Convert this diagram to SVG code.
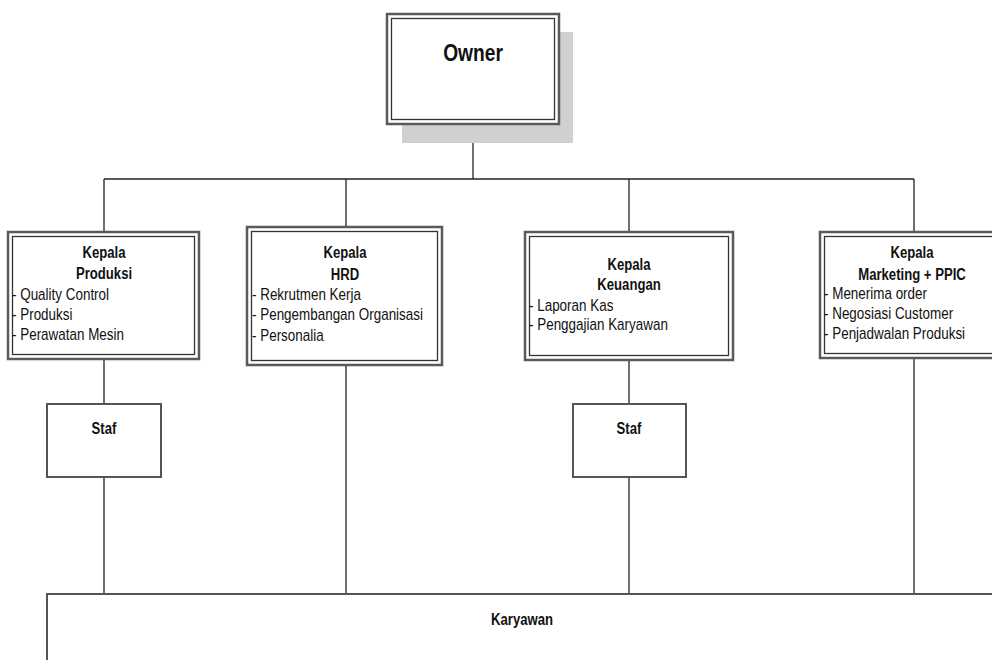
<svg xmlns="http://www.w3.org/2000/svg" width="992" height="660" viewBox="0 0 992 660">
<style>
  text { font-family: "Liberation Sans", Arial, sans-serif; fill: #111; }
  .b { font-weight: bold; font-size: 16px; text-anchor: middle; }
  .t { font-size: 16px; }
  .title { font-weight: bold; font-size: 24px; text-anchor: middle; }
  .outer { fill: #fff; stroke: #5a5a5a; stroke-width: 2.5; }
  .inner { fill: none; stroke: #333; stroke-width: 1.3; }
  .single { fill: #fff; stroke: #555; stroke-width: 2; }
  .shadow { fill: #d0d0d0; }
  .conn line { stroke: #222; stroke-width: 1.3; }
</style>
<rect width="992" height="660" fill="#fff"/>
<g class="conn" id="connectors">
  <line x1="473" y1="124" x2="473" y2="179"/>
  <line x1="104" y1="179" x2="914" y2="179"/>
  <line x1="104" y1="179" x2="104" y2="232"/>
  <line x1="346" y1="179" x2="346" y2="227"/>
  <line x1="629" y1="179" x2="629" y2="232"/>
  <line x1="914" y1="179" x2="914" y2="232"/>
  <line x1="104" y1="359" x2="104" y2="404"/>
  <line x1="104" y1="477" x2="104" y2="594"/>
  <line x1="346" y1="365" x2="346" y2="594"/>
  <line x1="629" y1="360" x2="629" y2="404"/>
  <line x1="629" y1="477" x2="629" y2="594"/>
  <line x1="914" y1="358" x2="914" y2="594"/>
</g>
<g id="owner">
  <rect class="shadow" x="402" y="32" width="171" height="111"/>
  <rect class="outer" x="387" y="14" width="172" height="110"/>
  <rect class="inner" x="391.5" y="18.5" width="163" height="101"/>
  <text class="title" transform="translate(473,61) scale(0.8,1)">Owner</text>
</g>
<g id="kepala-produksi">
  <rect class="outer" x="8" y="232" width="191" height="127"/>
  <rect class="inner" x="12.5" y="236.5" width="182" height="118"/>
  <text class="b" transform="translate(104,258) scale(0.82,1)">Kepala</text>
  <text class="b" transform="translate(104,279) scale(0.82,1)">Produksi</text>
  <text class="t" transform="translate(12,300) scale(0.84,1)">- Quality Control</text>
  <text class="t" transform="translate(12,320) scale(0.84,1)">- Produksi</text>
  <text class="t" transform="translate(12,340) scale(0.84,1)">- Perawatan Mesin</text>
</g>
<g id="kepala-hrd">
  <rect class="outer" x="247" y="227" width="195" height="138"/>
  <rect class="inner" x="251.5" y="231.5" width="186" height="129"/>
  <text class="b" transform="translate(345,258) scale(0.82,1)">Kepala</text>
  <text class="b" transform="translate(345,280) scale(0.82,1)">HRD</text>
  <text class="t" transform="translate(252,300) scale(0.84,1)">- Rekrutmen Kerja</text>
  <text class="t" transform="translate(252,320) scale(0.84,1)">- Pengembangan Organisasi</text>
  <text class="t" transform="translate(252,341) scale(0.84,1)">- Personalia</text>
</g>
<g id="kepala-keuangan">
  <rect class="outer" x="525" y="232" width="208" height="128"/>
  <rect class="inner" x="529.5" y="236.5" width="199" height="119"/>
  <text class="b" transform="translate(629,270) scale(0.82,1)">Kepala</text>
  <text class="b" transform="translate(629,290) scale(0.82,1)">Keuangan</text>
  <text class="t" transform="translate(529,311) scale(0.84,1)">- Laporan Kas</text>
  <text class="t" transform="translate(529,330) scale(0.84,1)">- Penggajian Karyawan</text>
</g>
<g id="kepala-marketing">
  <rect class="outer" x="820" y="232" width="190" height="126"/>
  <rect class="inner" x="824.5" y="236.5" width="181" height="117"/>
  <text class="b" transform="translate(912,258) scale(0.82,1)">Kepala</text>
  <text class="b" transform="translate(912,280) scale(0.82,1)">Marketing + PPIC</text>
  <text class="t" transform="translate(824,299) scale(0.84,1)">- Menerima order</text>
  <text class="t" transform="translate(824,319) scale(0.84,1)">- Negosiasi Customer</text>
  <text class="t" transform="translate(824,339) scale(0.84,1)">- Penjadwalan Produksi</text>
</g>
<g id="staf-produksi">
  <rect class="single" x="47" y="404" width="114" height="73"/>
  <text class="b" transform="translate(104,434) scale(0.82,1)">Staf</text>
</g>
<g id="staf-keuangan">
  <rect class="single" x="573" y="404" width="113" height="73"/>
  <text class="b" transform="translate(629,434) scale(0.82,1)">Staf</text>
</g>
<g id="karyawan">
  <rect class="single" x="47" y="594" width="960" height="80"/>
  <text class="b" transform="translate(522,625) scale(0.82,1)">Karyawan</text>
</g>
</svg>
